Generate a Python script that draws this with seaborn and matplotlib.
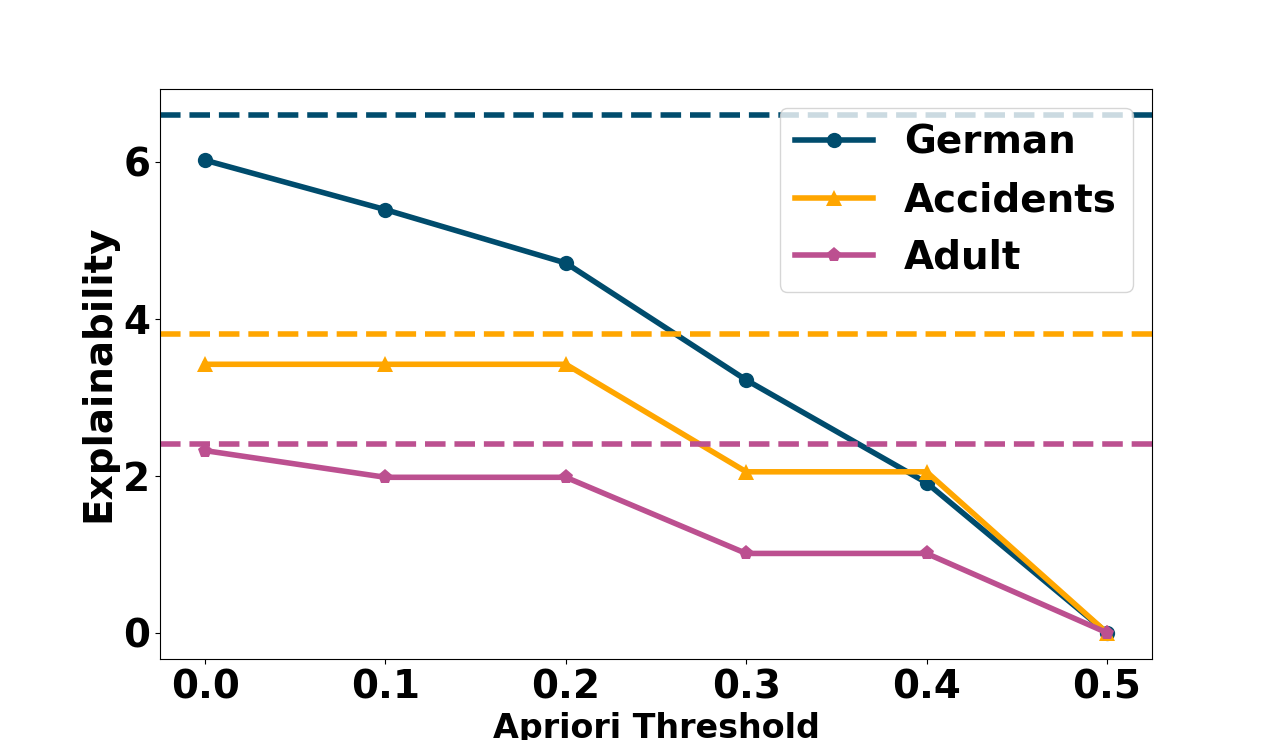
import numpy as np
import pandas as pd
import matplotlib
matplotlib.use("Agg")
import matplotlib.pyplot as plt
import seaborn as sns

thresholds = [0.0, 0.1, 0.2, 0.3, 0.4, 0.5]
german = [6.02, 5.39, 4.71, 3.22, 1.91, 0.0]
accidents = [3.42, 3.42, 3.42, 2.05, 2.05, 0.0]
adult = [2.32, 1.98, 1.98, 1.01, 1.01, 0.0]

# baselines (dashed)
baselines = {"German": 6.6, "Accidents": 3.8, "Adult": 2.4}

colors = {"German": "#004c6d", "Accidents": "#ffa600", "Adult": "#bc5090"}
markers = {"German": "o", "Accidents": "^", "Adult": "p"}

series = {"German": german, "Accidents": accidents, "Adult": adult}

plt.rcParams["font.weight"] = "bold"
plt.rcParams["axes.labelweight"] = "bold"

fig, ax = plt.subplots(figsize=(12.8, 7.4), dpi=100)

for name, vals in series.items():
    sns.lineplot(x=thresholds, y=vals, ax=ax, color=colors[name], marker=markers[name],
                 markersize=11, markeredgewidth=0, linewidth=4, label=name)

for name, val in baselines.items():
    ax.axhline(val, color=colors[name], linestyle="--", linewidth=4)

ax.set_xlabel("Apriori Threshold", fontsize=24)
ax.set_ylabel("Explainability", fontsize=28)
ax.set_xticks(thresholds)
ax.set_xticklabels([f"{t:.1f}" for t in thresholds])
ax.set_yticks([0, 2, 4, 6])
ax.tick_params(labelsize=28)
ax.legend(loc="upper right", fontsize=28)

fig.savefig("out.png", dpi=100)
